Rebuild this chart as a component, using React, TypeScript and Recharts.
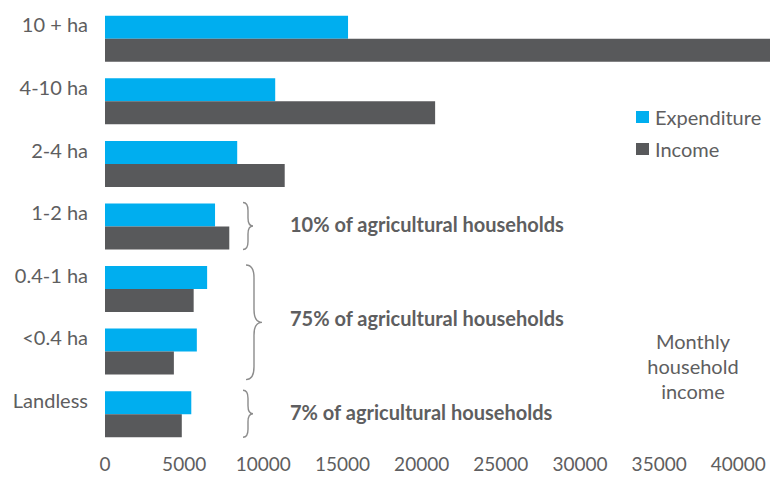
import { BarChart, Bar, XAxis, YAxis, Legend } from 'recharts';

const categories = ['10 + ha', '4-10 ha', '2-4 ha', '1-2 ha', '0.4-1 ha', '<0.4 ha', 'Landless'];
const expenditure = [15350, 10750, 8350, 6950, 6450, 5800, 5450];
const income = [42000, 20850, 11350, 7850, 5600, 4350, 4850];
const xTicks = [0, 5000, 10000, 15000, 20000, 25000, 30000, 35000, 40000];

// which categories each brace groups, and its note
const groupFrom = [3, 4, 6];
const groupTo = [3, 5, 6];
const groupNotes = ['10% of agricultural households', '75% of agricultural households', '7% of agricultural households'];
const sideNote = ['Monthly', 'household', 'income'];

const W = 770;
const H = 483;
const TOP = 7;
const BOTTOM = 38;
const AXIS_W = 105;
const FONT = 'Lato, "Open Sans", sans-serif';
const TEXT = '#5e5e60';

const data = categories.map((size, i) => ({
  size,
  expenditure: expenditure[i],
  income: income[i],
}));

const band = (H - TOP - BOTTOM) / categories.length;
const bandTop = (i: number) => TOP + band * i;

function bracePath(x: number, y1: number, y2: number, w: number) {
  const mid = (y1 + y2) / 2;
  const h = w / 2;
  const c = Math.min(h * 1.6, (y2 - y1) / 4);
  return `M${x},${y1} Q${x + h},${y1} ${x + h},${y1 + c} L${x + h},${mid - c} Q${x + h},${mid} ${x + w},${mid} Q${x + h},${mid} ${x + h},${mid + c} L${x + h},${y2 - c} Q${x + h},${y2} ${x},${y2}`;
}

function LegendBox() {
  const items = [
    { name: 'Expenditure', color: '#00aeef' },
    { name: 'Income', color: '#58595b' },
  ];
  return (
    <ul style={{ listStyle: 'none', margin: 0, padding: 0 }}>
      {items.map((it) => (
        <li key={it.name} style={{ display: 'flex', alignItems: 'center', height: 32, fontSize: 20, color: TEXT, fontFamily: FONT }}>
          <span style={{ width: 13, height: 12, background: it.color, marginRight: 6, display: 'inline-block' }} />
          {it.name}
        </li>
      ))}
    </ul>
  );
}

export default function App() {
  return (
    <div style={{ position: 'absolute', left: 0, top: 0, width: W, height: H, background: '#fff', fontFamily: FONT }}>
      <BarChart
        width={W}
        height={H}
        data={data}
        layout="vertical"
        margin={{ top: TOP, right: 0, bottom: 8, left: 0 }}
        barCategoryGap="14%"
        barGap={0}
      >
        <XAxis
          type="number"
          domain={[0, 42000]}
          ticks={xTicks}
          interval={0}
          height={30}
          axisLine={false}
          tickLine={false}
          tickMargin={7}
          tick={{ fill: TEXT, fontSize: 19, fontFamily: FONT }}
        />
        <YAxis
          type="category"
          dataKey="size"
          width={AXIS_W}
          axisLine={false}
          tickLine={false}
          tickMargin={11}
          tick={{ fill: TEXT, fontSize: 20, fontFamily: FONT, dy: -13 }}
        />
        <Legend
          layout="vertical"
          verticalAlign="middle"
          align="center"
          content={() => <LegendBox />}
          wrapperStyle={{ top: 101, left: 636, width: 134 }}
        />
        <Bar dataKey="expenditure" name="Expenditure" fill="#00aeef" isAnimationActive={false} />
        <Bar dataKey="income" name="Income" fill="#58595b" isAnimationActive={false} />
      </BarChart>
      <svg width={W} height={H} style={{ position: 'absolute', left: 0, top: 0, pointerEvents: 'none' }}>
        {groupNotes.map((note, g) => {
          const y1 = bandTop(groupFrom[g]) + band * 0.14 - 1;
          const y2 = bandTop(groupTo[g] + 1) - band * 0.14 + (groupTo[g] > groupFrom[g] ? 6 : 1);
          const wide = groupTo[g] > groupFrom[g];
          const mid = (bandTop(groupFrom[g]) + bandTop(groupTo[g] + 1)) / 2;
          return (
            <g key={note}>
              <path
                d={bracePath(wide ? 246 : 243, y1, y2, wide ? 16 : 10)}
                fill="none"
                stroke="#8c8c8c"
                strokeWidth={1.4}
              />
              <text x={290} y={mid} dy="0.32em" fontSize={20} fontWeight={700} fill={TEXT} fontFamily={FONT}>
                {note}
              </text>
            </g>
          );
        })}
        <text x={693} y={342} textAnchor="middle" fontSize={20} fill={TEXT} fontFamily={FONT}>
          {sideNote.map((line, i) => (
            <tspan key={line} x={693} dy={i === 0 ? '0.35em' : 25}>
              {line}
            </tspan>
          ))}
        </text>
      </svg>
    </div>
  );
}
